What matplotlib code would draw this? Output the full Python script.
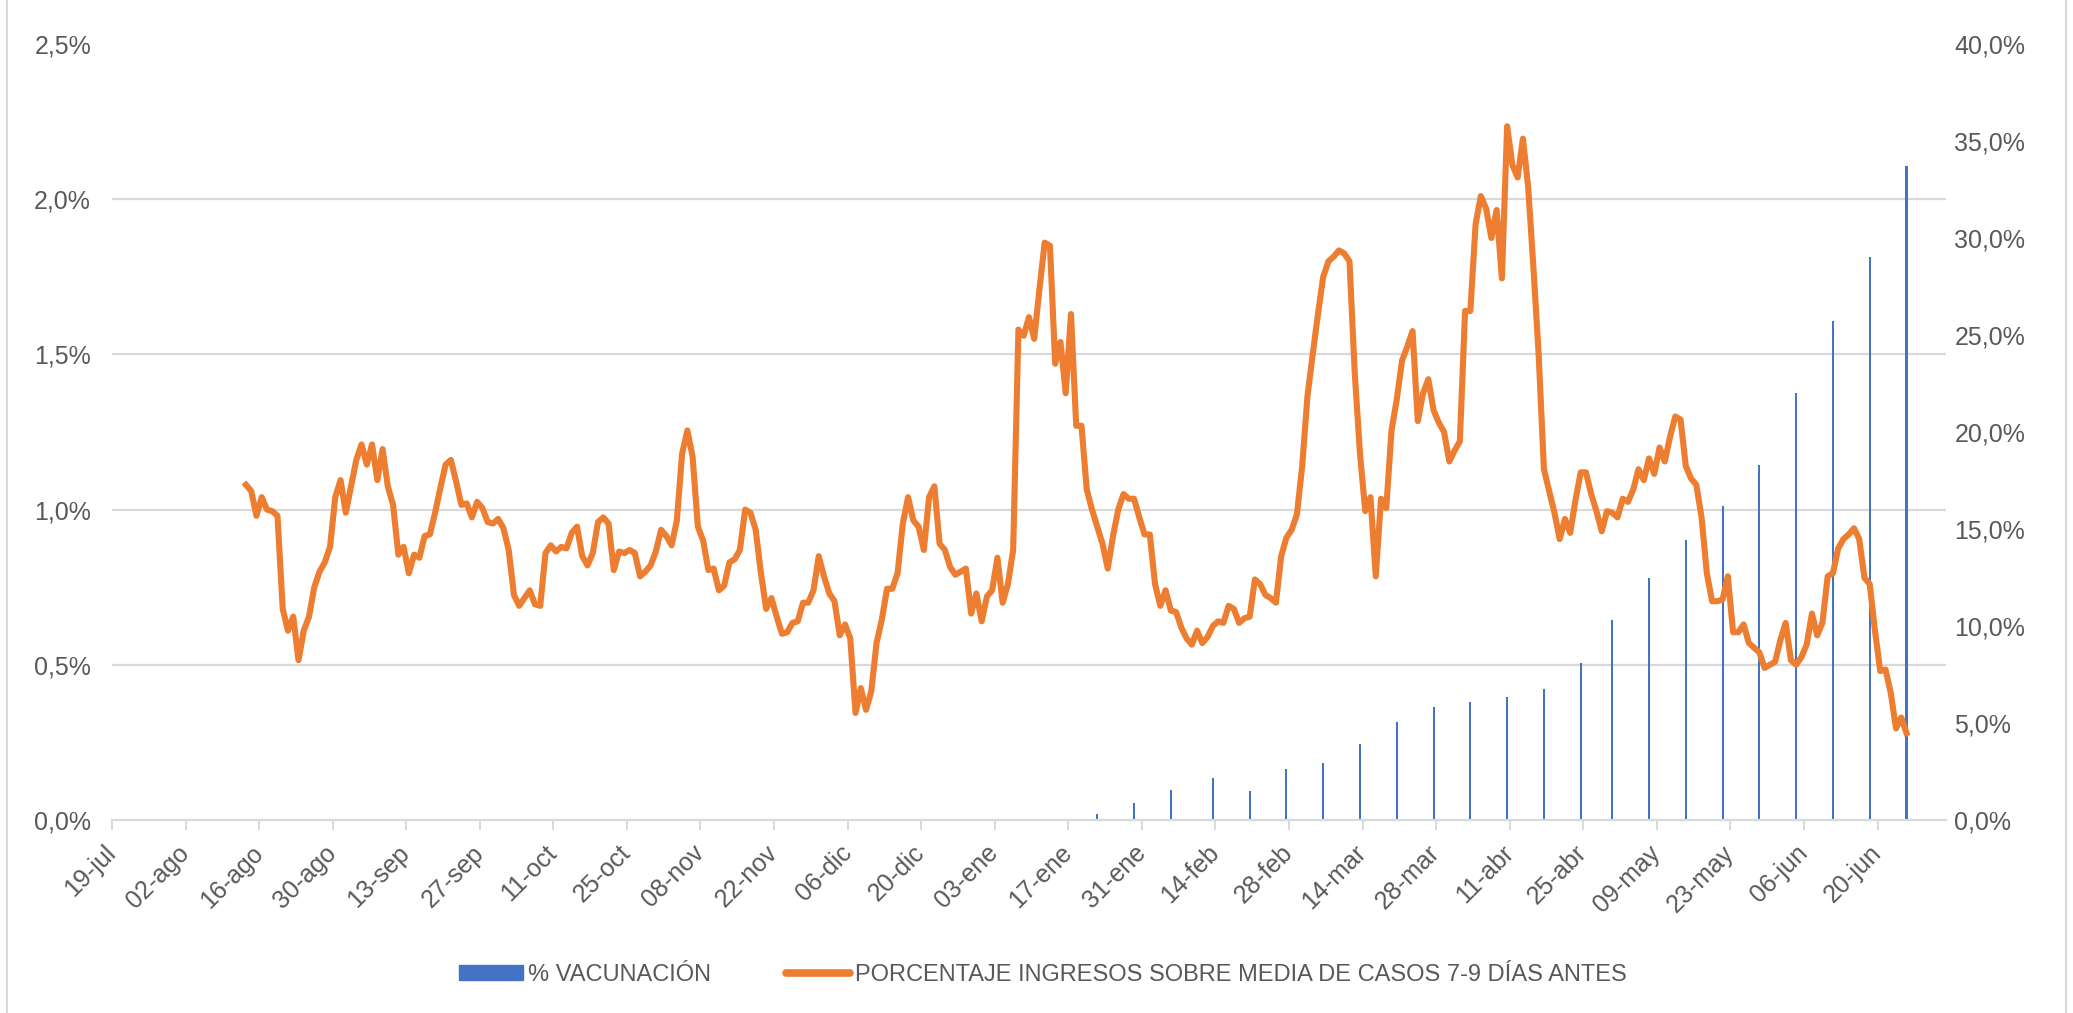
import matplotlib
matplotlib.use("Agg")
import matplotlib.pyplot as plt
import matplotlib.ticker as mticker
from matplotlib.patches import Patch, Rectangle
from matplotlib.lines import Line2D
import pandas as pd

# === DATA ===
START = "2020-07-19"
AXIS_END = "2021-07-03"

# daily ratio (%), first value is 13-ago-2020
INGRESOS_START = "2020-08-13"
INGRESOS = [
    1.08, 1.06, 0.98, 1.04, 1.00, 0.995, 0.98, 0.68, 0.61, 0.655,
    0.515, 0.61, 0.655, 0.75, 0.80, 0.83, 0.88, 1.04, 1.095, 0.99,
    1.075, 1.16, 1.21, 1.145, 1.21, 1.095, 1.195, 1.075, 1.015, 0.855,
    0.88, 0.795, 0.855, 0.845, 0.915, 0.92, 0.99, 1.07, 1.145, 1.16,
    1.09, 1.015, 1.02, 0.975, 1.025, 1.005, 0.96, 0.955, 0.97, 0.94,
    0.87, 0.725, 0.69, 0.715, 0.74, 0.695, 0.69, 0.86, 0.885, 0.865,
    0.88, 0.875, 0.925, 0.945, 0.85, 0.82, 0.86, 0.96, 0.975, 0.955,
    0.805, 0.865, 0.86, 0.87, 0.86, 0.785, 0.80, 0.82, 0.865, 0.935,
    0.915, 0.885, 0.965, 1.18, 1.255, 1.17, 0.945, 0.90, 0.805, 0.81,
    0.74, 0.755, 0.83, 0.84, 0.87, 1.00, 0.99, 0.935, 0.795, 0.68,
    0.715, 0.655, 0.60, 0.605, 0.635, 0.64, 0.70, 0.70, 0.74, 0.85,
    0.785, 0.73, 0.705, 0.595, 0.63, 0.585, 0.345, 0.425, 0.355, 0.415,
    0.57, 0.645, 0.745, 0.745, 0.795, 0.955, 1.04, 0.965, 0.945, 0.87,
    1.04, 1.075, 0.89, 0.87, 0.815, 0.79, 0.80, 0.81, 0.665, 0.73,
    0.64, 0.72, 0.74, 0.845, 0.70, 0.76, 0.87, 1.58, 1.56, 1.62,
    1.55, 1.71, 1.86, 1.85, 1.47, 1.54, 1.375, 1.63, 1.27, 1.27,
    1.065, 1.00, 0.945, 0.89, 0.81, 0.915, 1.00, 1.05, 1.035, 1.035,
    0.975, 0.92, 0.92, 0.76, 0.69, 0.74, 0.675, 0.67, 0.62, 0.585,
    0.565, 0.61, 0.57, 0.59, 0.625, 0.64, 0.635, 0.69, 0.68, 0.635,
    0.65, 0.655, 0.775, 0.76, 0.725, 0.715, 0.70, 0.85, 0.91, 0.935,
    0.985, 1.14, 1.365, 1.50, 1.63, 1.75, 1.80, 1.815, 1.835, 1.825,
    1.80, 1.44, 1.18, 0.995, 1.04, 0.785, 1.035, 1.005, 1.255, 1.355,
    1.48, 1.525, 1.575, 1.285, 1.375, 1.42, 1.32, 1.28, 1.25, 1.155,
    1.19, 1.22, 1.64, 1.64, 1.92, 2.01, 1.97, 1.875, 1.965, 1.745,
    2.235, 2.11, 2.07, 2.195, 2.04, 1.78, 1.50, 1.13, 1.06, 0.99,
    0.905, 0.97, 0.925, 1.03, 1.12, 1.12, 1.05, 0.995, 0.93, 0.995,
    0.99, 0.975, 1.035, 1.025, 1.065, 1.13, 1.095, 1.165, 1.115, 1.20,
    1.155, 1.235, 1.30, 1.29, 1.14, 1.10, 1.08, 0.975, 0.795, 0.705,
    0.705, 0.71, 0.785, 0.605, 0.605, 0.63, 0.57, 0.555, 0.54, 0.49,
    0.50, 0.51, 0.58, 0.635, 0.515, 0.50, 0.525, 0.565, 0.665, 0.595,
    0.635, 0.785, 0.795, 0.875, 0.905, 0.92, 0.94, 0.905, 0.78, 0.76,
    0.61, 0.48, 0.485, 0.41, 0.295, 0.33, 0.28,
]

VAC_DATES = [
    "2021-01-22", "2021-01-29", "2021-02-05", "2021-02-13", "2021-02-20",
    "2021-02-27", "2021-03-06", "2021-03-13", "2021-03-20", "2021-03-27",
    "2021-04-03", "2021-04-10", "2021-04-17", "2021-04-24", "2021-04-30",
    "2021-05-07", "2021-05-14", "2021-05-21", "2021-05-28", "2021-06-04",
    "2021-06-11", "2021-06-18", "2021-06-25",
]
VACUNACION = [
    0.3, 0.9, 1.55, 2.15, 1.5, 2.65, 2.95, 3.9, 5.05, 5.8, 6.1, 6.35,
    6.75, 8.1, 10.3, 12.5, 14.45, 16.2, 18.3, 22.0, 25.7, 29.0, 33.7,
]

MESES = ["ene", "feb", "mar", "abr", "may", "jun",
         "jul", "ago", "sep", "oct", "nov", "dic"]

LABEL_VAC = "% VACUNACIÓN"
LABEL_ING = "PORCENTAJE INGRESOS SOBRE MEDIA DE CASOS 7-9 DÍAS ANTES"

# === STYLE ===
ORANGE = "#ED7D31"
BLUE = "#4472C4"
GRID = "#D9D9D9"
TEXT = "#595959"
FS = 18          # tick labels
FS_LEG = 17      # legend

plt.rcParams["font.family"] = ["Liberation Sans", "DejaVu Sans"]


def pct(v, pos):
    return f"{v:.1f}%".replace(".", ",")


# Excel puts daily points in the middle of the day
half_day = pd.Timedelta(hours=12)
ing_dates = pd.date_range(INGRESOS_START, periods=len(INGRESOS), freq="D") + half_day
vac_dates = pd.to_datetime(VAC_DATES) + half_day

fig = plt.figure(figsize=(20.73, 10.13), dpi=100)
ax = fig.add_axes([0.054, 0.1905, 0.8847, 0.7661])
ax2 = ax.twinx()
ax.set_zorder(ax2.get_zorder() + 1)
ax.patch.set_visible(False)

# === BARS (right axis) ===
ax2.bar(vac_dates, VACUNACION, width=0.4, color=BLUE, linewidth=0)
ax2.set_ylim(0, 40)
ax2.yaxis.set_major_locator(mticker.MultipleLocator(5))
ax2.yaxis.set_major_formatter(mticker.FuncFormatter(pct))
# gridlines follow the left axis (every 0,5% = every 8% on the right)
ax2.yaxis.set_minor_locator(mticker.MultipleLocator(8))
ax2.grid(which="minor", axis="y", color=GRID, linewidth=1.6)
ax2.set_axisbelow(True)

# === LINE (left axis) ===
ax.plot(ing_dates, INGRESOS, color=ORANGE, linewidth=4.4, solid_joinstyle="round")
ax.set_ylim(0, 2.5)
ax.yaxis.set_major_locator(mticker.MultipleLocator(0.5))
ax.yaxis.set_major_formatter(mticker.FuncFormatter(pct))

# === X AXIS ===
ticks = pd.date_range(START, "2021-06-20", freq="14D")
ax.set_xlim(pd.Timestamp(START), pd.Timestamp(AXIS_END))
ax.set_xticks(ticks)
ax.set_xticklabels([f"{t.day:02d}-{MESES[t.month - 1]}" for t in ticks],
                   rotation=45, ha="right", va="center", rotation_mode="anchor")

for a in (ax, ax2):
    for s in a.spines.values():
        s.set_visible(False)
    a.tick_params(axis="y", which="both", length=0, labelsize=FS, labelcolor=TEXT)
ax.spines["bottom"].set_visible(True)
ax.spines["bottom"].set_color(GRID)
ax.spines["bottom"].set_linewidth(1.6)
ax.tick_params(axis="y", pad=15)
ax2.tick_params(axis="y", pad=6)
ax.tick_params(axis="x", length=7, width=1.4, color=GRID, labelsize=FS,
               labelcolor=TEXT, pad=14)
ax2.tick_params(axis="x", length=0)

# === LEGEND ===
handles = [Patch(facecolor=BLUE, edgecolor=BLUE),
           Line2D([0], [0], color=ORANGE, linewidth=5.5, solid_capstyle="round")]
leg = fig.legend(handles, [LABEL_VAC, LABEL_ING], loc="center",
                 bbox_to_anchor=(0.503, 0.038), ncol=2, frameon=False,
                 fontsize=FS_LEG, handlelength=2.7, handleheight=0.6,
                 handletextpad=0.2, columnspacing=3.2)
for t in leg.get_texts():
    t.set_color(TEXT)

# light chart border
fig.patches.append(Rectangle((0.0035, -0.01), 0.993, 1.02, transform=fig.transFigure,
                             fill=False, edgecolor=GRID, linewidth=1.5))

fig.savefig("out.png", dpi=100)
